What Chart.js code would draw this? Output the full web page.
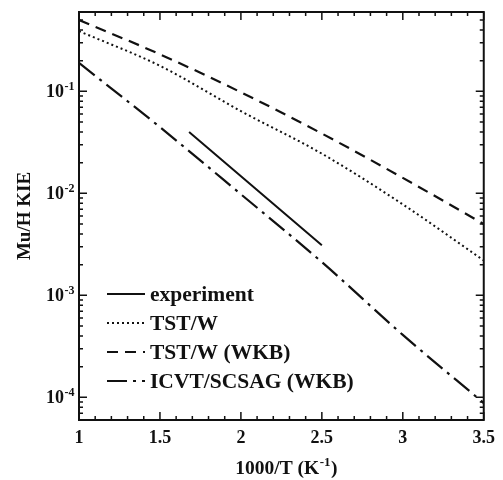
<!DOCTYPE html>
<html>
<head>
<meta charset="utf-8">
<script src="https://cdn.jsdelivr.net/npm/chart.js@4.4.0/dist/chart.umd.min.js"></script>
<style>
html, body { margin: 0; padding: 0; background: #fff; }
#wrap { width: 503px; height: 480px; position: relative; }
</style>
</head>
<body>
<div id="wrap"><canvas id="kieChart"></canvas></div>
<script>
// 1000/T grid the model curves are read at
const invT = [1, 1.5, 2, 2.5, 3, 3.5]

// Mu/H KIE
const tstW = [0.39, 0.178, 0.064, 0.0245, 0.0078, 0.0022]
const tstWwkb = [0.50, 0.231, 0.098, 0.0386, 0.0142, 0.0050]
const icvtWkb = [0.19, 0.0446, 0.0098, 0.00212, 0.00041, 0.000088]

// experiment is a straight segment
const expInvT = [1.68, 2.5]
const expKie = [0.040, 0.0031]

const xTicks = [1, 1.5, 2, 2.5, 3, 3.5]
const yTicks = [1e-4, 1e-3, 1e-2, 1e-1]
const yTickExp = ['-4', '-3', '-2', '-1']

const serif = '"Liberation Serif", "DejaVu Serif", serif'
const ink = '#111'

function toPoints(xs, ys) {
    return xs.map((v, i) => ({ x: v, y: ys[i] }))
}

// base text followed by a raised exponent, right edge or centre at x
function drawPower(ctx, base, exp, after, x, y, align, size) {
    const big = 'bold ' + size + 'px ' + serif
    const small = 'bold ' + Math.round(size * 0.67) + 'px ' + serif
    ctx.font = big
    const wb = ctx.measureText(base).width
    const wa = after ? ctx.measureText(after).width : 0
    ctx.font = small
    const we = ctx.measureText(exp).width + 1
    const total = wb + we + wa
    let x0 = align === 'right' ? x - total : x - total / 2
    ctx.textAlign = 'left'
    ctx.textBaseline = 'alphabetic'
    ctx.font = big
    ctx.fillText(base, x0, y)
    ctx.font = small
    ctx.fillText(exp, x0 + wb + 0.5, y - size * 0.4)
    if (after) {
        ctx.font = big
        ctx.fillText(after, x0 + wb + we, y)
    }
}

const frameTicks = {
    id: 'frameTicks',
    afterDatasetsDraw(chart) {
        const { ctx, chartArea: a, scales: { x, y } } = chart
        ctx.save()
        ctx.strokeStyle = ink
        ctx.lineWidth = 2
        ctx.strokeRect(a.left, a.top, a.right - a.left, a.bottom - a.top)
        ctx.lineWidth = 1.5
        ctx.beginPath()
        for (let i = 0; i <= 25; i++) {
            const px = x.getPixelForValue(1 + i * 0.1)
            const len = i % 5 === 0 ? 8 : 4
            ctx.moveTo(px, a.bottom); ctx.lineTo(px, a.bottom - len)
            ctx.moveTo(px, a.top); ctx.lineTo(px, a.top + len)
        }
        for (let e = -5; e <= 0; e++) {
            for (let m = 1; m <= 9; m++) {
                const v = m * Math.pow(10, e)
                if (v < y.min || v > y.max) continue
                const py = y.getPixelForValue(v)
                const len = m === 1 ? 8 : 4
                ctx.moveTo(a.left, py); ctx.lineTo(a.left + len, py)
                ctx.moveTo(a.right, py); ctx.lineTo(a.right - len, py)
            }
        }
        ctx.stroke()

        // log tick labels and x title with real superscripts
        ctx.fillStyle = ink
        yTicks.forEach((v, i) => {
            drawPower(ctx, '10', yTickExp[i], '', a.left - 4, y.getPixelForValue(v) + 6, 'right', 18)
        })
        drawPower(ctx, '1000/T (K', '-1', ')', (a.left + a.right) / 2 + 5, 474, 'center', 19.5)
        ctx.restore()
    }
}

const innerLegend = {
    id: 'innerLegend',
    afterDraw(chart) {
        const { ctx, chartArea: a } = chart
        ctx.save()
        ctx.font = 'bold 21.5px ' + serif
        ctx.fillStyle = ink
        ctx.strokeStyle = ink
        ctx.lineWidth = 2
        ctx.textBaseline = 'middle'
        chart.data.datasets.forEach((ds, i) => {
            const yy = a.bottom - 126 + i * 29
            ctx.setLineDash(ds.borderDash || [])
            ctx.beginPath()
            ctx.moveTo(a.left + 28, yy)
            ctx.lineTo(a.left + 66, yy)
            ctx.stroke()
            ctx.setLineDash([])
            ctx.fillText(ds.label, a.left + 71, yy + 1)
        })
        ctx.restore()
    }
}

new Chart(document.getElementById('kieChart'), {
    type: 'line',
    data: {
        datasets: [
            {
                label: 'experiment',
                data: toPoints(expInvT, expKie),
                borderColor: ink,
                borderWidth: 2
            },
            {
                label: 'TST/W',
                data: toPoints(invT, tstW),
                borderColor: ink,
                borderWidth: 2,
                borderDash: [2, 3]
            },
            {
                label: 'TST/W (WKB)',
                data: toPoints(invT, tstWwkb),
                borderColor: ink,
                borderWidth: 2.2,
                borderDash: [11, 7]
            },
            {
                label: 'ICVT/SCSAG (WKB)',
                data: toPoints(invT, icvtWkb),
                borderColor: ink,
                borderWidth: 2.2,
                borderDash: [20, 6, 3, 6]
            }
        ]
    },
    options: {
        responsive: true,
        maintainAspectRatio: false,
        animation: false,
        layout: { padding: { top: 12, right: 15, left: 0, bottom: 0 } },
        elements: {
            point: { radius: 0 },
            line: { cubicInterpolationMode: 'monotone' }
        },
        plugins: {
            legend: { display: false },
            tooltip: { enabled: false }
        },
        scales: {
            x: {
                type: 'linear',
                min: 1,
                max: 3.5,
                afterBuildTicks: (scale) => { scale.ticks = xTicks.map(v => ({ value: v })) },
                afterFit: (scale) => { scale.height = 60 },
                grid: { display: false, drawTicks: false },
                border: { display: false },
                ticks: {
                    color: ink,
                    padding: 8,
                    maxRotation: 0,
                    font: { family: serif, size: 18, weight: 'bold' },
                    callback: (v) => String(v)
                }
            },
            y: {
                type: 'logarithmic',
                min: 6e-5,
                max: 0.6,
                afterBuildTicks: (scale) => { scale.ticks = yTicks.map(v => ({ value: v })) },
                afterFit: (scale) => { scale.width = 79 },
                grid: { display: false, drawTicks: false },
                border: { display: false },
                ticks: { display: false },
                title: {
                    display: true,
                    text: 'Mu/H KIE',
                    color: ink,
                    padding: { top: 14, bottom: 0 },
                    font: { family: serif, size: 19, weight: 'bold' }
                }
            }
        }
    },
    plugins: [frameTicks, innerLegend]
})
</script>
</body>
</html>
